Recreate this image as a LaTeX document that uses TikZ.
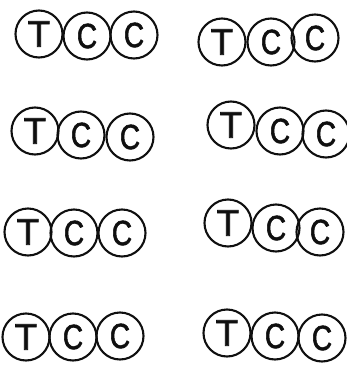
\documentclass[tikz,border=0pt]{standalone}
\usepackage{fontspec}
\setsansfont{Liberation Sans}[FakeBold=1.6]
\newfontfamily\narrowsans{Liberation Sans}[FakeStretch=0.8,FakeBold=1.6]
\usepackage{tikz}
\definecolor{ScanInk}{gray}{0.06}

\begin{document}
\begin{tikzpicture}[
  x=1pt,y=-1pt,
  ink/.style={draw=ScanInk,line width=2.1pt},
  base/.style={ink,circle,minimum size=47pt,inner sep=0pt,text=ScanInk},
  tbase/.style={base,font=\sffamily\fontsize{37}{37}\selectfont},
  cbase/.style={base,font=\narrowsans\fontsize{35}{35}\selectfont},
]
  \useasboundingbox (0,0) rectangle (346,367);

  % row 1
  \node[tbase] (t1) at (39,34) {T};
  \node[cbase] (c1a) at (87,36) {C};
  \node[cbase] (c1b) at (134,35) {C};
  \node[tbase] (t2) at (222,42) {T};
  \node[cbase] (c2a) at (271,42) {C};
  \node[cbase] (c2b) at (315,38) {C};

  % row 2
  \node[tbase] (t3) at (35,131) {T};
  \node[cbase] (c3a) at (81,135) {C};
  \node[cbase] (c3b) at (130,137) {C};
  \node[tbase] (t4) at (231,125) {T};
  \node[cbase] (c4a) at (280,131) {C};
  \node[cbase] (c4b) at (326,134) {C};

  % row 3
  \node[tbase] (t5) at (28,232) {T};
  \node[cbase] (c5a) at (74,233) {C};
  \node[cbase] (c5b) at (122,233) {C};
  \node[tbase] (t6) at (228,223) {T};
  \node[cbase] (c6a) at (276,228) {C};
  \node[cbase] (c6b) at (320,232) {C};

  % row 4
  \node[tbase] (t7) at (26,337) {T};
  \node[cbase] (c7a) at (73,337) {C};
  \node[cbase] (c7b) at (120,336) {C};
  \node[tbase] (t8) at (227,333) {T};
  \node[cbase] (c8a) at (275,336) {C};
  \node[cbase] (c8b) at (322,338) {C};
\end{tikzpicture}
\end{document}
